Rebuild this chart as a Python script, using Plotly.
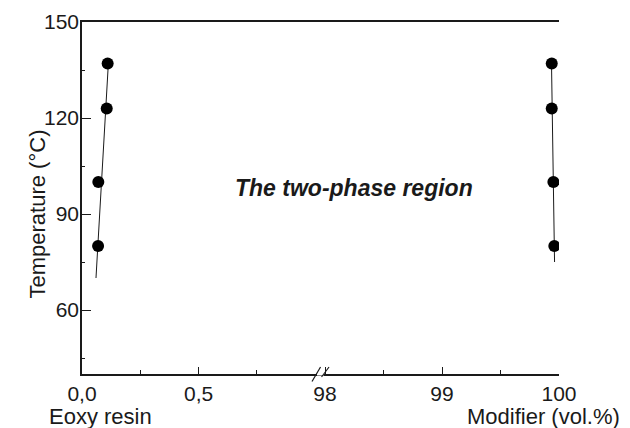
import plotly.graph_objects as go

# ---- data ----
temperature = [80, 100, 123, 137]
epoxy_x = [0.069, 0.070, 0.106, 0.110]
modifier_x = [99.960, 99.952, 99.938, 99.938]
epoxy_fit_x = [0.060, 0.113]
epoxy_fit_y = [70, 137]
modifier_fit_x = [99.962, 99.936]
modifier_fit_y = [75, 137]

left_ticks = [0.0, 0.5]
left_tick_labels = ["0,0", "0,5"]
right_ticks = [98, 99, 100]
right_tick_labels = ["98", "99", "100"]
y_ticks = [60, 90, 120, 150]

FONT = "Liberation Sans, Arial, sans-serif"
INK = "#1a1a1a"
BREAK = 0.4948  # paper fraction of the axis break

fig = go.Figure()
fig.add_trace(go.Scatter(x=epoxy_fit_x, y=epoxy_fit_y, mode="lines",
                         line=dict(color=INK, width=1), xaxis="x", yaxis="y", showlegend=False))
fig.add_trace(go.Scatter(x=epoxy_x, y=temperature, mode="markers",
                         marker=dict(color="black", size=12), xaxis="x", yaxis="y", showlegend=False))
fig.add_trace(go.Scatter(x=modifier_fit_x, y=modifier_fit_y, mode="lines",
                         line=dict(color=INK, width=1), xaxis="x2", yaxis="y", showlegend=False))
fig.add_trace(go.Scatter(x=modifier_x, y=temperature, mode="markers",
                         marker=dict(color="black", size=12), xaxis="x2", yaxis="y", showlegend=False))

axis_common = dict(showline=True, linecolor=INK, linewidth=1.5, showgrid=False, zeroline=False,
                   ticks="inside", tickcolor=INK, tickwidth=1.2,
                   tickfont=dict(family=FONT, size=21, color=INK))

fig.update_layout(
    width=622, height=420,
    margin=dict(l=74, r=71, t=14, b=54, autoexpand=False),
    paper_bgcolor="white", plot_bgcolor="white",
    xaxis=dict(domain=[0, BREAK], range=[0, 1.012], anchor="y",
               tickmode="array", tickvals=left_ticks, ticktext=left_tick_labels,
               ticklen=7, mirror=True,
               minor=dict(tickvals=[0.25, 0.75], ticks="inside", ticklen=4, tickcolor=INK),
               **axis_common),
    xaxis2=dict(domain=[BREAK, 1], range=[97.94, 100], anchor="y",
                tickmode="array", tickvals=right_ticks, ticktext=right_tick_labels,
                ticklen=7, mirror=True,
                minor=dict(tickvals=[98.5, 99.5], ticks="inside", ticklen=4, tickcolor=INK),
                **axis_common),
    yaxis=dict(range=[40, 150], anchor="x", side="left",
               tickmode="array", tickvals=y_ticks, ticklen=9, ticklabelstandoff=-3,
               minor=dict(dtick=15, tick0=0, ticks="inside", ticklen=3, tickcolor=INK),
               **axis_common),
    yaxis2=dict(range=[40, 150], anchor="x2", overlaying="y", side="right",
                tickmode="array", tickvals=y_ticks, ticklen=10, ticklabelstandoff=4,
                minor=dict(dtick=15, tick0=0, ticks="outside", ticklen=3, tickcolor=INK),
                **axis_common),
)

# axis break marks
fig.add_shape(type="line", xref="paper", yref="paper", xsizemode="pixel", ysizemode="pixel",
              xanchor=BREAK, yanchor=0, x0=-1, x1=6, y0=0, y1=0,
              line=dict(color="white", width=3), layer="above")
fig.add_shape(type="line", xref="paper", yref="paper", xsizemode="pixel", ysizemode="pixel",
              xanchor=BREAK, yanchor=0, x0=-6, x1=2.5, y0=-7.5, y1=7,
              line=dict(color=INK, width=1.2), layer="above")
fig.add_shape(type="line", xref="paper", yref="paper", xsizemode="pixel", ysizemode="pixel",
              xanchor=BREAK, yanchor=0, x0=3.5, x1=11, y0=-3, y1=7,
              line=dict(color=INK, width=1.2), layer="above")

fig.add_annotation(text="<b><i>The two-phase region</i></b>", xref="paper", yref="paper",
                   x=0.571, y=(374 - 188) / 352, showarrow=False,
                   font=dict(family=FONT, size=23, color=INK))
fig.add_annotation(text="Temperature (°C)", xref="paper", yref="paper",
                   x=0, y=(374 - 214) / 352, xshift=-60, textangle=-90, showarrow=False,
                   font=dict(family=FONT, size=22, color=INK))
fig.add_annotation(text="Eoxy resin", xref="paper", yref="paper", x=0, y=0,
                   xanchor="center", yanchor="middle", xshift=18, yshift=-42, showarrow=False,
                   font=dict(family=FONT, size=22, color=INK))
fig.add_annotation(text="Modifier (vol.%)", xref="paper", yref="paper", x=1, y=0,
                   xanchor="right", yanchor="middle", xshift=63, yshift=-42, showarrow=False,
                   font=dict(family=FONT, size=22, color=INK))

fig.write_html("out.html")
